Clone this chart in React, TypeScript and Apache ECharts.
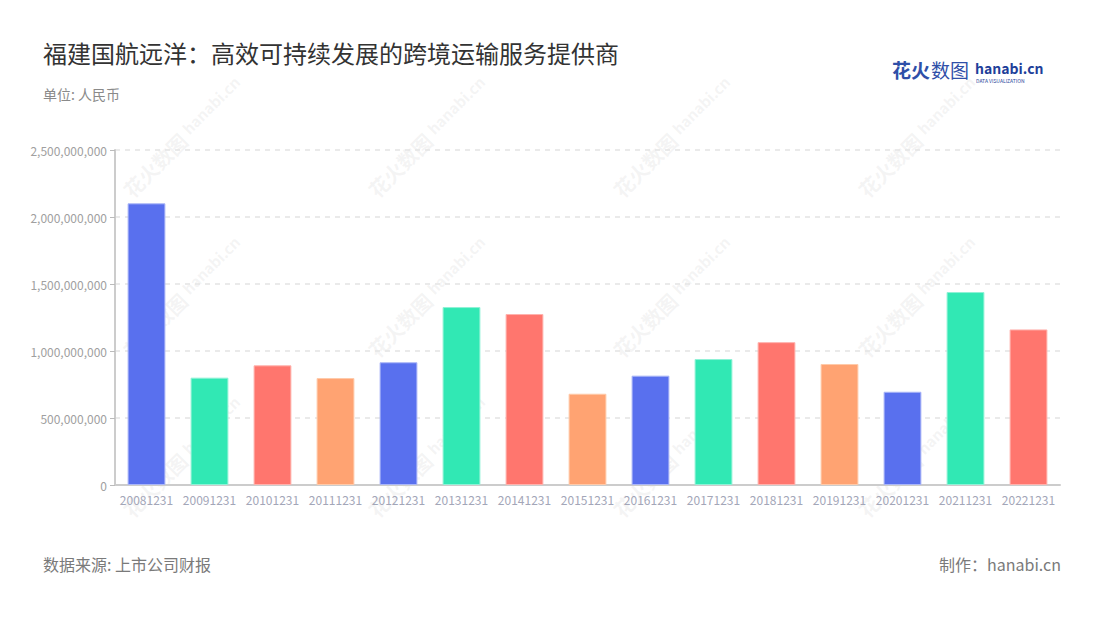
import React, { useEffect, useRef } from "react";
import * as echarts from "echarts";

const categories = [
  "20081231", "20091231", "20101231", "20111231", "20121231",
  "20131231", "20141231", "20151231", "20161231", "20171231",
  "20181231", "20191231", "20201231", "20211231", "20221231",
];
const values = [
  2102000000, 801000000, 893000000, 798000000, 916000000,
  1328000000, 1276000000, 681000000, 816000000, 940000000,
  1066000000, 903000000, 696000000, 1440000000, 1161000000,
];
const palette = ["#5970ee", "#31e8b4", "#ff766e", "#ffa372"];
const borderPalette = ["#aab6f7", "#8ff2d6", "#ffb2ad", "#ffcaa9"];

const titleText = "福建国航远洋：高效可持续发展的跨境运输服务提供商";
const unitText = "单位: 人民币";
const sourceText = "数据来源: 上市公司财报";
const makerText = "制作：hanabi.cn";

const FONT = "'Noto Sans CJK SC', 'Noto Sans', sans-serif";

function watermarks() {
  const els: any[] = [];
  const xs = [155, 400, 645, 890];
  const ys = [165, 325, 485];
  for (const x of xs) {
    for (const y of ys) {
      els.push({
        type: "group",
        x,
        y,
        rotation: Math.PI / 4,
        silent: true,
        z: 100,
        children: [
          {
            type: "text",
            x: 0,
            y: 0,
            style: {
              text: "花火数图",
              font: `bold 20px ${FONT}`,
              fill: "rgba(190,190,190,0.16)",
              textAlign: "center",
              textVerticalAlign: "middle",
            },
          },
          {
            type: "text",
            x: 82,
            y: -3,
            style: {
              text: "hanabi.cn",
              font: `bold 15px ${FONT}`,
              fill: "rgba(190,190,190,0.16)",
              textAlign: "center",
              textVerticalAlign: "middle",
            },
          },
        ],
      });
    }
  }
  return els;
}

export default function App() {
  const ref = useRef<HTMLDivElement>(null);
  useEffect(() => {
    if (!ref.current) return;
    const chart = echarts.init(ref.current, null, { renderer: "svg" });
    chart.setOption({
      animation: false,
      backgroundColor: "#ffffff",
      grid: { left: 115, right: 40, top: 150, bottom: 135, containLabel: false },
      xAxis: {
        type: "category",
        data: categories,
        axisLine: { lineStyle: { color: "#cccccc", width: 2 } },
        axisTick: { alignWithLabel: true, length: 5, lineStyle: { color: "#bbbbbb" } },
        axisLabel: { color: "#a3a6b8", fontSize: 12, margin: 8, interval: 0, fontFamily: FONT },
      },
      yAxis: {
        type: "value",
        min: 0,
        max: 2500000000,
        interval: 500000000,
        axisLine: { show: true, lineStyle: { color: "#cccccc", width: 2 } },
        axisTick: { show: true, length: 5, lineStyle: { color: "#bbbbbb" } },
        axisLabel: {
          color: "#a0a0a0",
          fontSize: 12,
          fontFamily: FONT,
          margin: 8,
          formatter: (v: number) => v.toLocaleString("en-US"),
        },
        splitLine: { lineStyle: { color: "#e3e3e3", type: [5, 5], width: 1.5 } },
      },
      series: [
        {
          type: "bar",
          barWidth: "60%",
          data: values.map((v, i) => ({
            value: v,
            itemStyle: {
              color: palette[i % 4],
              borderColor: borderPalette[i % 4],
              borderWidth: 1,
            },
          })),
        },
      ],
      graphic: [
        {
          type: "text",
          left: 43,
          top: 40,
          style: { text: titleText, font: `24px ${FONT}`, fill: "#333333" },
        },
        {
          type: "text",
          left: 43,
          top: 87,
          style: { text: unitText, font: `14px ${FONT}`, fill: "#8a8a8a" },
        },
        {
          type: "text",
          left: 43,
          top: 556,
          style: { text: sourceText, font: `16px ${FONT}`, fill: "#7a7a7a" },
        },
        {
          type: "text",
          right: 39,
          top: 556,
          style: { text: makerText, font: `16px ${FONT}`, fill: "#7a7a7a" },
        },
        {
          type: "text",
          left: 892,
          top: 60,
          style: { text: "花火", font: `bold 19px ${FONT}`, fill: "#2f4fa8" },
        },
        {
          type: "text",
          left: 931,
          top: 60,
          style: { text: "数图", font: `19px ${FONT}`, fill: "#2f4fa8" },
        },
        {
          type: "text",
          left: 975,
          top: 61,
          style: { text: "hanabi.cn", font: `bold 14px ${FONT}`, fill: "#1f3f9a" },
        },
        {
          type: "text",
          left: 976,
          top: 78,
          style: { text: "DATA VISUALIZATION", font: `5px ${FONT}`, fill: "#1f3f9a" },
        },
        ...watermarks(),
      ],
    });
    return () => chart.dispose();
  }, []);
  return (
    <div
      ref={ref}
      style={{ position: "fixed", left: 0, top: 0, width: 1100, height: 620 }}
    />
  );
}
